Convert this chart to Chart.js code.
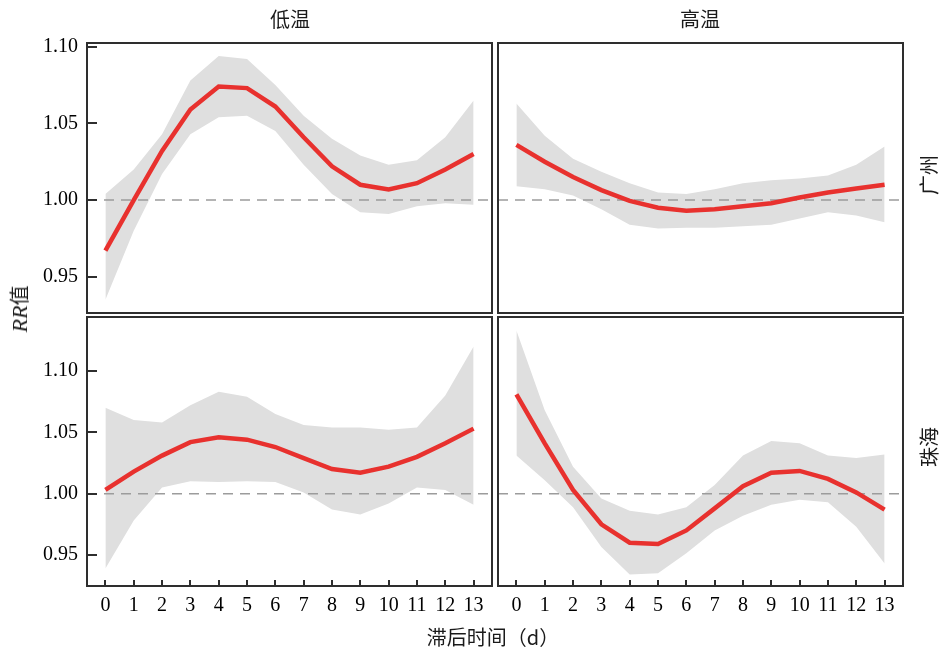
<!DOCTYPE html>
<html>
<head>
<meta charset="utf-8">
<script src="https://cdn.jsdelivr.net/npm/chart.js@4"></script>
<style>
body { margin: 0; background: #fff; }
#wrap { position: relative; width: 950px; height: 649px; }
canvas { position: absolute; left: 0; top: 0; }
.lab { position: absolute; font-family: "Noto Sans CJK SC"; font-size: 20px; color: #1a1a1a;
       white-space: nowrap; transform: translate(-50%, -50%); line-height: 1; }
.rot { transform: translate(-50%, -50%) rotate(-90deg); }
.lab i { font-family: "Liberation Serif"; font-size: 22px; }
</style>
</head>
<body>
<div id="wrap">
  <canvas id="gzCold" width="950" height="649"></canvas>
  <canvas id="gzHot" width="950" height="649"></canvas>
  <canvas id="zhCold" width="950" height="649"></canvas>
  <canvas id="zhHot" width="950" height="649"></canvas>
  <div class="lab" style="left:290px;top:19px">低温</div>
  <div class="lab" style="left:700px;top:19px">高温</div>
  <div class="lab rot" style="left:929px;top:175px">广州</div>
  <div class="lab rot" style="left:929px;top:447px">珠海</div>
  <div class="lab rot" style="left:20px;top:309px"><i>RR</i>值</div>
  <div class="lab" style="left:493px;top:637px">滞后时间（d）</div>
</div>
<script>
// lag days
const lags = [0, 1, 2, 3, 4, 5, 6, 7, 8, 9, 10, 11, 12, 13];
const yTicks = [0.95, 1.00, 1.05, 1.10];
const refLine = 1.00;

// 广州 低温
const gzColdRR   = [0.967, 1.000, 1.032, 1.059, 1.074, 1.073, 1.061, 1.041, 1.022, 1.010, 1.007, 1.011, 1.020, 1.030];
const gzColdLow  = [0.935, 0.980, 1.017, 1.043, 1.054, 1.055, 1.045, 1.023, 1.004, 0.992, 0.991, 0.996, 0.998, 0.997];
const gzColdHigh = [1.004, 1.020, 1.043, 1.078, 1.094, 1.092, 1.075, 1.055, 1.040, 1.029, 1.023, 1.026, 1.041, 1.065];
// 广州 高温
const gzHotRR   = [1.036, 1.025, 1.015, 1.0065, 0.9995, 0.995, 0.993, 0.994, 0.996, 0.998, 1.0017, 1.005, 1.0075, 1.010];
const gzHotLow  = [1.009, 1.007, 1.003, 0.994, 0.984, 0.9815, 0.982, 0.982, 0.983, 0.984, 0.988, 0.992, 0.990, 0.9855];
const gzHotHigh = [1.063, 1.042, 1.027, 1.0185, 1.011, 1.005, 1.004, 1.007, 1.011, 1.013, 1.014, 1.016, 1.023, 1.035];
// 珠海 低温
const zhColdRR   = [1.003, 1.018, 1.031, 1.042, 1.046, 1.044, 1.038, 1.029, 1.020, 1.017, 1.022, 1.030, 1.041, 1.053];
const zhColdLow  = [0.939, 0.978, 1.005, 1.010, 1.0095, 1.010, 1.0095, 1.001, 0.987, 0.983, 0.992, 1.005, 1.003, 0.991];
const zhColdHigh = [1.070, 1.060, 1.058, 1.072, 1.083, 1.079, 1.065, 1.056, 1.054, 1.054, 1.052, 1.054, 1.080, 1.120];
// 珠海 高温
const zhHotRR   = [1.081, 1.041, 1.003, 0.975, 0.960, 0.959, 0.970, 0.988, 1.006, 1.017, 1.0185, 1.012, 1.001, 0.987];
const zhHotLow  = [1.031, 1.011, 0.989, 0.9565, 0.934, 0.935, 0.9515, 0.970, 0.982, 0.991, 0.995, 0.993, 0.973, 0.943];
const zhHotHigh = [1.133, 1.068, 1.022, 0.996, 0.986, 0.983, 0.989, 1.007, 1.031, 1.043, 1.041, 1.031, 1.029, 1.032];

const red = '#e8312e';
const band = '#dfdfdf';
const frameColor = '#2e2e2e';

function toXY(vals) {
  return vals.map((v, i) => ({ x: lags[i], y: v }))
}

// panel border, inward ticks and the dashed line at RR = 1
const panelFrame = {
  id: 'panelFrame',
  afterDatasetDraw(chart, args) {
    if (args.index !== 1) return
    const { ctx, chartArea: a } = chart
    const y = chart.scales.y.getPixelForValue(refLine)
    ctx.save()
    ctx.strokeStyle = '#9c9c9c'
    ctx.lineWidth = 1.5
    ctx.setLineDash([10, 7])
    ctx.beginPath()
    ctx.moveTo(a.left, y)
    ctx.lineTo(a.right, y)
    ctx.stroke()
    ctx.restore()
  },
  afterDraw(chart, args, opts) {
    const { ctx, chartArea: a } = chart
    ctx.save()
    ctx.strokeStyle = frameColor
    ctx.lineWidth = 2
    ctx.strokeRect(a.left, a.top, a.right - a.left, a.bottom - a.top)
    ctx.beginPath()
    if (opts.yTicks) {
      chart.scales.y.ticks.forEach(t => {
        const y = Math.round(chart.scales.y.getPixelForValue(t.value))
        ctx.moveTo(a.left, y)
        ctx.lineTo(a.left + 10, y)
      })
    }
    if (opts.xTicks) {
      chart.scales.x.ticks.forEach(t => {
        const x = Math.round(chart.scales.x.getPixelForValue(t.value))
        ctx.moveTo(x, a.bottom)
        ctx.lineTo(x, a.bottom - 6)
      })
    }
    ctx.stroke()
    ctx.restore()
  }
}

function panel(id, rr, lo, hi, yMin, yMax, box, showX, showY) {
  const axisFont = { family: 'Liberation Serif', size: 20 }
  new Chart(document.getElementById(id), {
    type: 'line',
    data: {
      datasets: [
        { data: toXY(rr), borderColor: red, borderWidth: 4.5, pointRadius: 0, fill: false },
        { data: toXY(lo), borderColor: 'rgba(0,0,0,0)', borderWidth: 0, pointRadius: 0, fill: false },
        { data: toXY(hi), borderColor: 'rgba(0,0,0,0)', borderWidth: 0, pointRadius: 0, fill: '-1', backgroundColor: band }
      ]
    },
    options: {
      responsive: false,
      animation: false,
      layout: {
        padding: {
          left: showY ? 0 : box.left,
          top: box.top,
          right: 950 - box.right,
          bottom: showX ? 649 - box.bottom - 40 : 649 - box.bottom
        }
      },
      plugins: {
        legend: { display: false },
        tooltip: { enabled: false },
        panelFrame: { xTicks: showX, yTicks: showY }
      },
      scales: {
        x: {
          type: 'linear', min: -0.65, max: 13.65, display: showX,
          grid: { display: false, drawTicks: false },
          border: { display: false },
          afterBuildTicks: s => { s.ticks = lags.map(v => ({ value: v })) },
          afterFit: s => { if (showX) s.height = 40 },
          ticks: { font: axisFont, color: '#000', padding: 8, maxRotation: 0, autoSkip: false }
        },
        y: {
          type: 'linear', min: yMin, max: yMax, display: showY,
          grid: { display: false, drawTicks: false },
          border: { display: false },
          afterBuildTicks: s => { s.ticks = yTicks.map(v => ({ value: v })) },
          afterFit: s => { if (showY) s.width = box.left },
          ticks: { font: axisFont, color: '#000', padding: 9, callback: v => v.toFixed(2) }
        }
      }
    },
    plugins: [panelFrame]
  })
}

const topRow = [0.9264, 1.1024];
const bottomRow = [0.9247, 1.144];

panel('gzCold', gzColdRR, gzColdLow, gzColdHigh, topRow[0], topRow[1], { left: 87, right: 492, top: 43, bottom: 313 }, false, true)
panel('gzHot', gzHotRR, gzHotLow, gzHotHigh, topRow[0], topRow[1], { left: 498, right: 903, top: 43, bottom: 313 }, false, false)
panel('zhCold', zhColdRR, zhColdLow, zhColdHigh, bottomRow[0], bottomRow[1], { left: 87, right: 492, top: 317, bottom: 586 }, true, true)
panel('zhHot', zhHotRR, zhHotLow, zhHotHigh, bottomRow[0], bottomRow[1], { left: 498, right: 903, top: 317, bottom: 586 }, true, false)
</script>
</body>
</html>
